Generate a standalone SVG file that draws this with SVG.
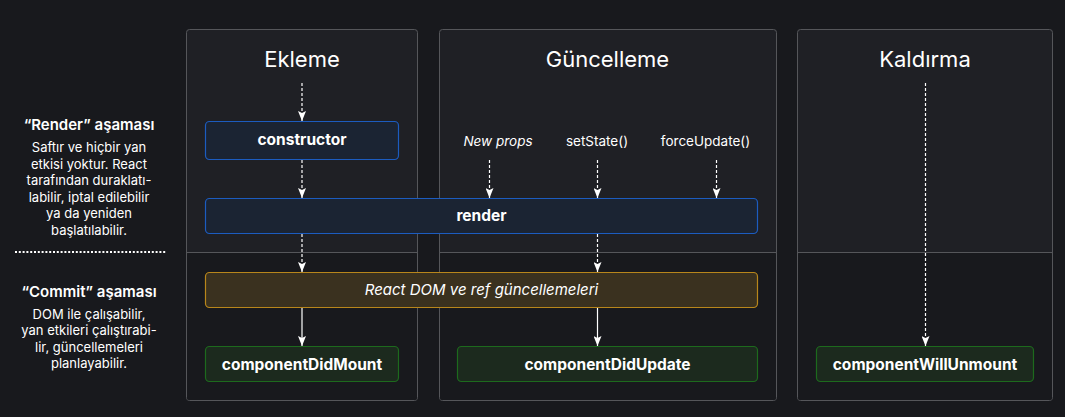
<svg xmlns="http://www.w3.org/2000/svg" width="1065" height="417" viewBox="0 0 1065 417">
<style>
text{font-family:Inter,"Noto Sans","Liberation Sans",sans-serif;fill:#ffffff;text-anchor:middle}
.title{font-size:22px}
.phase{font-size:15px;font-weight:600}
.body{font-size:13px}
.lbl{font-size:13.5px}
.it{font-style:italic}
.m{font-size:15.5px;font-weight:700}
.col{fill:#1f2025;stroke:#55565a;stroke-width:1}
.colb{fill:#18191d;stroke:none}
.div{stroke:#55565a;stroke-width:1}
.blue{fill:#1b2433;stroke:#1c5cc0;stroke-width:1.2}
.gold{fill:#3a311f;stroke:#b8861b;stroke-width:1.2}
.green{fill:#1c2a1e;stroke:#1d6a1d;stroke-width:1.2}
.dash{stroke:#ffffff;stroke-width:1.2;stroke-dasharray:3 2;fill:none}
.solid{stroke:#ffffff;stroke-width:1.2;fill:none}
</style>
<defs>
<marker id="av" viewBox="0 0 8 10" refX="4" refY="10" markerWidth="8" markerHeight="10" markerUnits="userSpaceOnUse" orient="0">
<path d="M0,0 L4,2 L8,0 L4,10 Z" fill="#ffffff"/>
</marker>
</defs>
<rect x="0" y="0" width="1065" height="417" fill="#18191d"/>

<g id="legend">
<text class="phase" x="89" y="129.5">“Render” aşaması</text>
<text class="body" x="89" y="152">Saftır ve hiçbir yan</text>
<text class="body" x="89" y="168.5">etkisi yoktur. React</text>
<text class="body" x="89" y="185">tarafından duraklatı-</text>
<text class="body" x="89" y="201.7">labilir, iptal edilebilir</text>
<text class="body" x="89" y="218.3">ya da yeniden</text>
<text class="body" x="89" y="235">başlatılabilir.</text>
<line x1="15" y1="252" x2="166" y2="252" stroke="#ffffff" stroke-width="2" stroke-dasharray="2 1.8"/>
<text class="phase" x="89" y="297">“Commit” aşaması</text>
<text class="body" x="89" y="318.5">DOM ile çalışabilir,</text>
<text class="body" x="89" y="335">yan etkileri çalıştırabi-</text>
<text class="body" x="89" y="351.7">lir, güncellemeleri</text>
<text class="body" x="89" y="368.3">planlayabilir.</text>
</g>

<g id="col-ekleme">
<rect class="col" x="186.5" y="29.5" width="231" height="371" rx="3"/>
<rect class="colb" x="187" y="253" width="230" height="147" rx="2"/>
<line class="div" x1="186.5" y1="252.5" x2="417.5" y2="252.5"/>
<text class="title" x="302" y="67">Ekleme</text>
</g>
<g id="col-guncelleme">
<rect class="col" x="439.5" y="29.5" width="337" height="371" rx="3"/>
<rect class="colb" x="440" y="253" width="336" height="147" rx="2"/>
<line class="div" x1="439.5" y1="252.5" x2="776.5" y2="252.5"/>
<text class="title" x="607.5" y="67">Güncelleme</text>
<text class="lbl it" x="498" y="145.5">New props</text>
<text class="lbl" x="597" y="145.5">setState()</text>
<text class="lbl" x="705.5" y="145.5">forceUpdate()</text>
</g>
<g id="col-kaldirma">
<rect class="col" x="797.5" y="29.5" width="255" height="371" rx="3"/>
<rect class="colb" x="798" y="253" width="254" height="147" rx="2"/>
<line class="div" x1="797.5" y1="252.5" x2="1052.5" y2="252.5"/>
<text class="title" x="925" y="67">Kaldırma</text>
</g>

<g id="connectors">
<line class="dash" x1="302" y1="83" x2="302" y2="121" marker-end="url(#av)"/>
<line class="dash" x1="302" y1="160" x2="302" y2="198" marker-end="url(#av)"/>
<line class="dash" x1="489.5" y1="160" x2="489.5" y2="198" marker-end="url(#av)"/>
<line class="dash" x1="597.5" y1="160" x2="597.5" y2="198" marker-end="url(#av)"/>
<line class="dash" x1="716.5" y1="160" x2="716.5" y2="198" marker-end="url(#av)"/>
<line class="dash" x1="302" y1="234" x2="302" y2="272" marker-end="url(#av)"/>
<line class="dash" x1="597.5" y1="234" x2="597.5" y2="272" marker-end="url(#av)"/>
<line class="solid" x1="302" y1="308" x2="302" y2="346" marker-end="url(#av)"/>
<line class="solid" x1="597.5" y1="308" x2="597.5" y2="346" marker-end="url(#av)"/>
<line class="dash" x1="925.5" y1="83" x2="925.5" y2="346" marker-end="url(#av)"/>
</g>

<g id="constructor">
<rect class="blue" x="205.5" y="121.5" width="193" height="38" rx="4"/>
<text class="m" x="302" y="145">constructor</text>
</g>
<g id="render">
<rect class="blue" x="205.5" y="198.5" width="552" height="35" rx="4"/>
<text class="m" x="481.5" y="221">render</text>
</g>
<g id="react-dom">
<rect class="gold" x="205.5" y="272.5" width="552" height="35" rx="4"/>
<text class="lbl it" x="481.5" y="295" style="font-size:15px">React DOM ve ref güncellemeleri</text>
</g>
<g id="componentDidMount">
<rect class="green" x="205.5" y="346.5" width="193" height="35" rx="4"/>
<text class="m" x="302" y="369.5">componentDidMount</text>
</g>
<g id="componentDidUpdate">
<rect class="green" x="457.5" y="346.5" width="300" height="35" rx="4"/>
<text class="m" x="607.5" y="369.5">componentDidUpdate</text>
</g>
<g id="componentWillUnmount">
<rect class="green" x="816.5" y="346.5" width="217" height="35" rx="4"/>
<text class="m" x="925" y="369.5">componentWillUnmount</text>
</g>
</svg>
